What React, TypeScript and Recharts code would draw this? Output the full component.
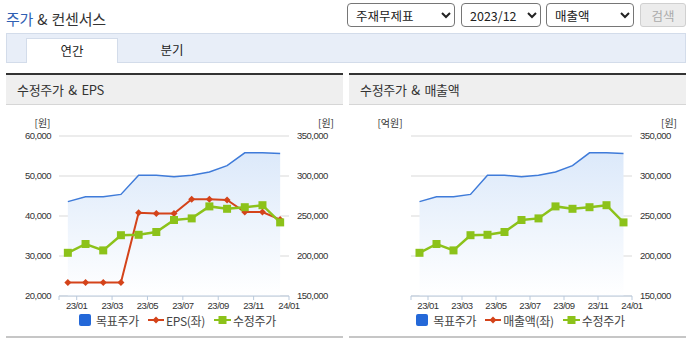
import React from "react";
import {
  ComposedChart,
  Area,
  Line,
  XAxis,
  YAxis,
  CartesianGrid,
  Legend,
} from "recharts";

// monthly points, 22/12 .. 23/12
const months = ["22/12", "23/01", "23/02", "23/03", "23/04", "23/05", "23/06", "23/07", "23/08", "23/09", "23/10", "23/11", "23/12"];
const targetPrice = [268000, 274000, 274000, 277000, 301000, 301000, 299000, 301000, 305000, 313000, 329000, 329000, 328000];
const epsValues = [23400, 23400, 23400, 23400, 40800, 40600, 40600, 44200, 44200, 44000, 41000, 41000, 39100];
const salesValues = [null, null, null, null, null, null, null, null, null, null, null, null, null];
const adjPrice = [204000, 215000, 207000, 226000, 226500, 230000, 245000, 247000, 262000, 259000, 261000, 263500, 242000];

const xTicks = [-0.5, 0.5, 2.5, 4.5, 6.5, 8.5, 10.5, 12.5];
const xTickLabels = ["", "23/01", "23/03", "23/05", "23/07", "23/09", "23/11", "24/01"];
const epsTicks = [20000, 30000, 40000, 50000, 60000];
const priceTicks = [150000, 200000, 250000, 300000, 350000];

const BLUE = "#3f7bd9";
const RED = "#d4431a";
const GREEN = "#8cc21a";
const KR = '"Noto Sans CJK KR", "Noto Sans", sans-serif';
const NUM = '"Liberation Sans", Arial, sans-serif';

const rows = months.map((m, i) => ({
  idx: i,
  month: m,
  target: targetPrice[i],
  eps: epsValues[i],
  sales: salesValues[i],
  price: adjPrice[i],
}));

const fmt = (v: number) => String(v).replace(/\B(?=(\d{3})+(?!\d))/g, ",");
const xLabel = (v: number) => xTickLabels[xTicks.indexOf(v)] ?? "";

const tickStyle = { fontSize: 9.5, fill: "#333", fontFamily: NUM, letterSpacing: -0.5 };

const Diamond = (props: any) => {
  const { cx, cy, index } = props;
  if (cx == null || cy == null) return <g key={`d-${index}`} />;
  return (
    <polygon
      key={`d-${index}`}
      points={`${cx},${cy - 3.5} ${cx + 3.5},${cy} ${cx},${cy + 3.5} ${cx - 3.5},${cy}`}
      fill={RED}
    />
  );
};

const Square = (props: any) => {
  const { cx, cy, index } = props;
  if (cx == null || cy == null) return <g key={`s-${index}`} />;
  return <rect key={`s-${index}`} x={cx - 4} y={cy - 4} width={8} height={8} fill={GREEN} />;
};

const LegendIcon = ({ kind, color }: { kind: string; color: string }) => {
  if (kind === "target") {
    return (
      <svg width={12} height={12} style={{ marginRight: 5 }}>
        <rect x={0} y={0} width={12} height={12} rx={2} fill="#2468d8" />
      </svg>
    );
  }
  if (kind === "price") {
    return (
      <svg width={17} height={12} style={{ marginRight: 2 }}>
        <line x1={0} y1={6} x2={17} y2={6} stroke={color} strokeWidth={2} />
        <rect x={4.5} y={2} width={8} height={8} fill={color} />
      </svg>
    );
  }
  return (
    <svg width={16} height={12} style={{ marginRight: 2 }}>
      <line x1={0} y1={6} x2={16} y2={6} stroke={color} strokeWidth={2} />
      <polygon points="8,2.5 11.5,6 8,9.5 4.5,6" fill={color} />
    </svg>
  );
};

const legendOrder = ["target", "eps", "sales", "price"];

const renderLegend = (props: any) => {
  const items = [...(props.payload || [])].sort(
    (a: any, b: any) => legendOrder.indexOf(a.dataKey) - legendOrder.indexOf(b.dataKey)
  );
  return (
    <div
      style={{
        height: 24,
        display: "flex",
        justifyContent: "center",
        alignItems: "center",
        paddingLeft: 6,
        fontFamily: KR,
        fontSize: 12,
        letterSpacing: -0.3,
        color: "#444",
      }}
    >
      {items.map((it: any, i: number) => (
        <span
          key={it.dataKey}
          style={{ display: "flex", alignItems: "center", marginRight: i < items.length - 1 ? 9 : 0 }}
        >
          <LegendIcon kind={it.dataKey} color={it.color} />
          <span>{it.value}</span>
        </span>
      ))}
    </div>
  );
};

interface ChartProps {
  gradId: string;
  leftKey: string;
  leftName: string;
  leftUnit: string;
  leftWidth: number;
  showLeftTicks: boolean;
}

const unitStyle = { fontSize: 10, fill: "#333", fontFamily: KR };

const PriceChart: React.FC<ChartProps> = ({ gradId, leftKey, leftName, leftUnit, leftWidth, showLeftTicks }) => (
  <ComposedChart
    width={337}
    height={232}
    data={rows}
    margin={{ top: 31, right: 0, bottom: 0, left: 0 }}
  >
    <defs>
      <linearGradient id={gradId} x1="0" y1="0" x2="0" y2="1">
        <stop offset="0%" stopColor="#dce9fa" />
        <stop offset="100%" stopColor="#ffffff" />
      </linearGradient>
    </defs>
    <CartesianGrid yAxisId="right" vertical={false} stroke="#d9d9d9" />
    <XAxis
      dataKey="idx"
      type="number"
      domain={[-0.5, 12.5]}
      ticks={xTicks}
      interval={0}
      tickFormatter={xLabel}
      height={17}
      tickSize={4}
      tickMargin={2}
      stroke="#b9c9dc"
      tick={tickStyle}
    />
    <YAxis
      yAxisId="left"
      orientation="left"
      width={leftWidth}
      domain={showLeftTicks ? [20000, 60000] : [0, 100]}
      ticks={showLeftTicks ? epsTicks : undefined}
      tick={showLeftTicks ? tickStyle : false}
      tickFormatter={fmt}
      axisLine={false}
      tickLine={false}
      label={{ value: leftUnit, position: "top", offset: 9, dx: 10, style: unitStyle }}
    />
    <YAxis
      yAxisId="right"
      orientation="right"
      width={54}
      domain={[150000, 350000]}
      ticks={priceTicks}
      tick={tickStyle}
      tickFormatter={fmt}
      axisLine={false}
      tickLine={false}
      label={{ value: "[원]", position: "top", offset: 9, dx: 10, style: unitStyle }}
    />
    <Area
      yAxisId="right"
      dataKey="target"
      name="목표주가"
      type="linear"
      stroke={BLUE}
      strokeWidth={1.5}
      fill={`url(#${gradId})`}
      fillOpacity={1}
      dot={false}
      activeDot={false}
      isAnimationActive={false}
    />
    <Line
      yAxisId="left"
      dataKey={leftKey}
      name={leftName}
      type="linear"
      stroke={RED}
      strokeWidth={2}
      dot={Diamond}
      activeDot={false}
      isAnimationActive={false}
    />
    <Line
      yAxisId="right"
      dataKey="price"
      name="수정주가"
      type="linear"
      stroke={GREEN}
      strokeWidth={2.5}
      dot={Square}
      activeDot={false}
      isAnimationActive={false}
    />
    <Legend content={renderLegend} wrapperStyle={{ top: 203, left: 0, width: 337 }} />
  </ComposedChart>
);

const Panel: React.FC<{ left: number; title: string; children: React.ReactNode }> = ({ left, title, children }) => (
  <div style={{ position: "absolute", left, top: 73, width: 337, height: 265 }}>
    <div
      style={{
        borderTop: "2px solid #333",
        height: 29,
        background: "#efefef",
        borderBottom: "1px solid #d6d6d6",
        lineHeight: "29px",
        paddingLeft: 11,
        fontSize: 13,
        letterSpacing: -0.3,
        wordSpacing: 2,
        color: "#333",
      }}
    >
      {title}
    </div>
    <div style={{ position: "absolute", left: 0, top: 32 }}>{children}</div>
    <div style={{ position: "absolute", left: 0, top: 263, width: 337, height: 2, background: "#c6c6c6" }} />
  </div>
);

const selectStyle: React.CSSProperties = {
  position: "absolute",
  top: 3,
  height: 24,
  border: "1px solid #767676",
  borderRadius: 4,
  background: "#fff",
  fontFamily: KR,
  fontSize: 12.5,
  color: "#222",
  padding: "0 4px",
  boxSizing: "border-box",
};

export default function App() {
  return (
    <div
      style={{
        position: "absolute",
        left: 0,
        top: 0,
        width: 698,
        height: 349,
        background: "#fff",
        fontFamily: KR,
        overflow: "hidden",
      }}
    >
      <div style={{ position: "absolute", left: 6, top: 8, fontSize: 15, lineHeight: "22px", letterSpacing: -0.2, wordSpacing: 1, color: "#333" }}>
        <span style={{ color: "#2f5fb3" }}>주가</span> &amp; 컨센서스
      </div>
      <select style={{ ...selectStyle, left: 347, width: 108 }} defaultValue="a">
        <option value="a">주재무제표</option>
      </select>
      <select style={{ ...selectStyle, left: 461, width: 80 }} defaultValue="b">
        <option value="b">2023/12</option>
      </select>
      <select style={{ ...selectStyle, left: 546, width: 88 }} defaultValue="c">
        <option value="c">매출액</option>
      </select>
      <button
        disabled
        style={{
          position: "absolute",
          left: 640,
          top: 3,
          width: 46,
          height: 24,
          border: "1px solid #d0d0d0",
          borderRadius: 3,
          background: "#ececec",
          color: "#aaa",
          fontFamily: KR,
          fontSize: 12.5,
          padding: 0,
        }}
      >
        검색
      </button>
      <div
        style={{
          position: "absolute",
          left: 6,
          top: 33,
          width: 680,
          height: 30,
          background: "#e8eef8",
          border: "1px solid #d3dcea",
          boxSizing: "border-box",
        }}
      />
      <div
        style={{
          position: "absolute",
          left: 26,
          top: 38,
          width: 92,
          height: 25,
          background: "#fff",
          border: "1px solid #d3dcea",
          borderBottom: "none",
          boxSizing: "border-box",
          textAlign: "center",
          lineHeight: "23px",
          fontSize: 12.5,
          color: "#222",
        }}
      >
        연간
      </div>
      <div style={{ position: "absolute", left: 126, top: 38, width: 92, textAlign: "center", lineHeight: "23px", fontSize: 12.5, color: "#222" }}>
        분기
      </div>
      <Panel left={6} title="수정주가 & EPS">
        <PriceChart gradId="gradL" leftKey="eps" leftName="EPS(좌)" leftUnit="[원]" leftWidth={53} showLeftTicks={true} />
      </Panel>
      <Panel left={349} title="수정주가 & 매출액">
        <PriceChart gradId="gradR" leftKey="sales" leftName="매출액(좌)" leftUnit="[억원]" leftWidth={62} showLeftTicks={false} />
      </Panel>
    </div>
  );
}
